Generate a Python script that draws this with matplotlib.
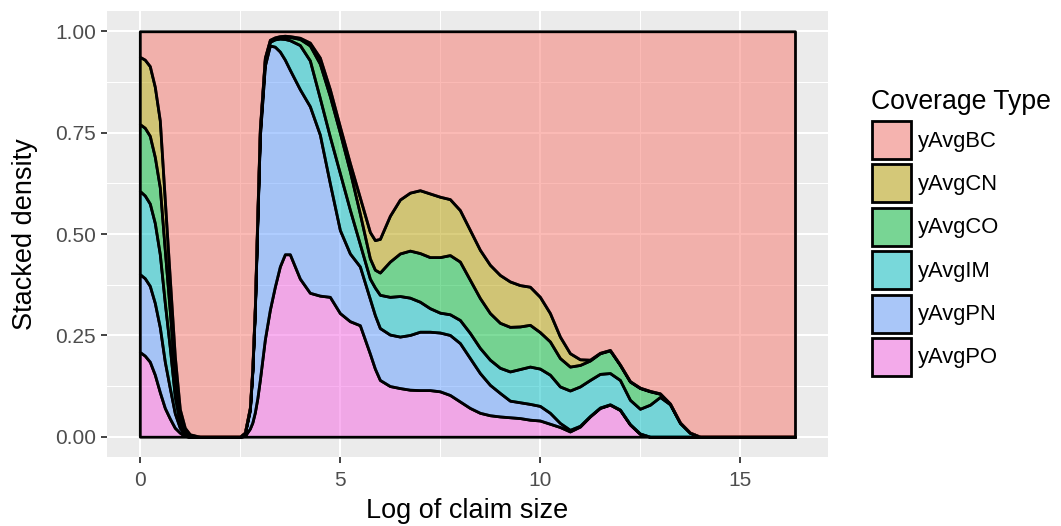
import numpy as np
import matplotlib
matplotlib.use("Agg")
import matplotlib.pyplot as plt
from matplotlib.colors import to_rgba
from matplotlib.patches import Rectangle

plt.rcParams['font.family'] = ['Liberation Sans', 'DejaVu Sans']

# log claim size grid and stacked (position = "fill") upper boundaries
x_claim = [0, 0.125, 0.25, 0.375, 0.5, 0.625, 0.75, 0.875, 1.0, 1.125, 1.25, 1.5,
           2.5, 2.625, 2.75, 2.8125, 2.875, 2.9375, 3.0, 3.125, 3.25, 3.375, 3.5, 3.625, 3.75,
           4.0, 4.25, 4.5, 4.75, 5.0, 5.25, 5.5, 5.75, 5.875, 6.0, 6.25, 6.5, 6.75,
           7.0, 7.25, 7.5, 7.75, 8.0, 8.25, 8.5, 8.75, 9.0, 9.25, 9.5, 9.75, 10.0, 10.25,
           10.5, 10.75, 11.0, 11.25, 11.5, 11.75, 12.0, 12.25, 12.5, 12.75, 13.0, 13.25,
           13.5, 13.75, 14.0, 16.375]

po_top = [0.209, 0.2, 0.185, 0.153, 0.11, 0.071, 0.045, 0.022, 0.01, 0.002, 0.0, 0.0,
          0.0, 0.002, 0.02, 0.035, 0.06, 0.095, 0.14, 0.24, 0.313, 0.37, 0.42, 0.45, 0.45,
          0.39, 0.355, 0.348, 0.345, 0.305, 0.285, 0.275, 0.205, 0.168, 0.14, 0.125, 0.12, 0.116,
          0.115, 0.115, 0.112, 0.103, 0.087, 0.071, 0.059, 0.053, 0.050, 0.048, 0.046, 0.042, 0.040, 0.032,
          0.024, 0.013, 0.025, 0.050, 0.071, 0.079, 0.066, 0.030, 0.007, 0.0, 0.0, 0.0,
          0.0, 0.0, 0.0, 0.0]
pn_top = [0.401, 0.391, 0.372, 0.33, 0.27, 0.185, 0.12, 0.058, 0.022, 0.006, 0.002, 0.0,
          0.0, 0.008, 0.065, 0.16, 0.31, 0.53, 0.74, 0.915, 0.965, 0.962, 0.95, 0.93, 0.905,
          0.857, 0.815, 0.745, 0.625, 0.51, 0.452, 0.42, 0.34, 0.30, 0.268, 0.252, 0.247, 0.251,
          0.259, 0.259, 0.257, 0.251, 0.231, 0.194, 0.157, 0.128, 0.108, 0.089, 0.085, 0.081, 0.076, 0.059,
          0.034, 0.017, 0.027, 0.051, 0.072, 0.080, 0.067, 0.031, 0.008, 0.0, 0.0, 0.0,
          0.0, 0.0, 0.0, 0.0]
im_top = [0.606, 0.595, 0.575, 0.527, 0.45, 0.33, 0.22, 0.099, 0.035, 0.01, 0.003, 0.0,
          0.0, 0.009, 0.068, 0.163, 0.315, 0.537, 0.75, 0.928, 0.974, 0.98, 0.982, 0.981, 0.978,
          0.966, 0.928, 0.835, 0.74, 0.65, 0.56, 0.475, 0.39, 0.368, 0.35, 0.345, 0.347, 0.343,
          0.333, 0.317, 0.306, 0.302, 0.288, 0.256, 0.219, 0.190, 0.170, 0.161, 0.167, 0.173, 0.168, 0.153,
          0.124, 0.114, 0.124, 0.140, 0.155, 0.157, 0.140, 0.091, 0.069, 0.079, 0.098, 0.080,
          0.034, 0.010, 0.0, 0.0]
co_top = [0.771, 0.762, 0.742, 0.69, 0.615, 0.46, 0.31, 0.149, 0.052, 0.015, 0.004, 0.0,
          0.0, 0.01, 0.07, 0.166, 0.318, 0.543, 0.755, 0.932, 0.977, 0.983, 0.986, 0.987, 0.986,
          0.981, 0.965, 0.92, 0.84, 0.75, 0.655, 0.55, 0.44, 0.412, 0.405, 0.432, 0.452, 0.459,
          0.453, 0.443, 0.443, 0.448, 0.432, 0.387, 0.342, 0.305, 0.281, 0.271, 0.272, 0.276, 0.258, 0.235,
          0.194, 0.173, 0.177, 0.188, 0.206, 0.213, 0.177, 0.136, 0.120, 0.112, 0.106, 0.081,
          0.035, 0.010, 0.0, 0.0]
cn_top = [0.937, 0.93, 0.914, 0.863, 0.78, 0.584, 0.39, 0.198, 0.068, 0.022, 0.006, 0.0,
          0.0, 0.01, 0.072, 0.17, 0.32, 0.55, 0.76, 0.935, 0.979, 0.985, 0.988, 0.989, 0.988,
          0.984, 0.972, 0.935, 0.857, 0.765, 0.675, 0.59, 0.505, 0.485, 0.488, 0.545, 0.585, 0.602,
          0.608, 0.600, 0.592, 0.586, 0.559, 0.510, 0.461, 0.424, 0.399, 0.383, 0.374, 0.370, 0.345, 0.305,
          0.247, 0.206, 0.191, 0.190, 0.207, 0.214, 0.178, 0.137, 0.121, 0.113, 0.107, 0.082,
          0.035, 0.010, 0.0, 0.0]

groups = ['yAvgPO', 'yAvgPN', 'yAvgIM', 'yAvgCO', 'yAvgCN', 'yAvgBC']
colors = ['#F564E3', '#619CFF', '#00BFC4', '#00BA38', '#B79F00', '#F8766D']

x = np.array(x_claim)
bounds = [np.zeros_like(x), np.array(po_top), np.array(pn_top), np.array(im_top),
          np.array(co_top), np.array(cn_top), np.ones_like(x)]

fig = plt.figure(figsize=(10.61, 5.26), dpi=100)
ax = fig.add_axes([107 / 1061, 1 - 457 / 526, (828 - 107) / 1061, (457 - 11) / 526])
ax.set_facecolor('#EBEBEB')
for s in ax.spines.values():
    s.set_visible(False)

for i, g in enumerate(groups):
    poly = ax.fill_between(x, bounds[i], bounds[i + 1], facecolor=to_rgba(colors[i], 0.5),
                           edgecolor='black', linewidth=2.0, zorder=3)
    poly.set_joinstyle('round')

ax.set_xlim(-0.82, 17.2)
ax.set_ylim(-0.05, 1.05)
ax.set_xticks([0, 5, 10, 15])
ax.set_xticks([2.5, 7.5, 12.5], minor=True)
ax.set_yticks([0, 0.25, 0.5, 0.75, 1.0])
ax.set_yticklabels(['0.00', '0.25', '0.50', '0.75', '1.00'])
ax.set_yticks([0.125, 0.375, 0.625, 0.875], minor=True)
ax.set_axisbelow(True)
ax.grid(which='major', color='white', linewidth=1.5)
ax.grid(which='minor', color='white', linewidth=0.75)
ax.tick_params(which='major', length=4, width=1.3, color='#333333', labelcolor='#4D4D4D',
               labelsize=15, pad=4)
ax.tick_params(axis='x', which='major', pad=6)
ax.tick_params(which='minor', length=0)
ax.set_xlabel('Log of claim size', fontsize=19.5, labelpad=6)
ax.set_ylabel('Stacked density', fontsize=19.5, labelpad=12)

# legend drawn in pixel coordinates
leg = fig.add_axes([0, 0, 1, 1])
leg.set_xlim(0, 1061)
leg.set_ylim(526, 0)
leg.axis('off')
leg.text(871, 109, 'Coverage Type', fontsize=19.2, ha='left', va='baseline')
legend_order = list(range(len(groups)))[::-1]
for k, i in enumerate(legend_order):
    y0 = 120 + 43.4 * k
    leg.add_patch(Rectangle((871, y0), 41, 40, facecolor='#F2F2F2', edgecolor='none'))
    leg.add_patch(Rectangle((872, y0 + 1), 39, 38, facecolor=to_rgba(colors[i], 0.5),
                            edgecolor='black', linewidth=2.0))
    leg.text(918, y0 + 21, groups[i], fontsize=15.8, ha='left', va='center')

fig.savefig('out.png', dpi=100)
